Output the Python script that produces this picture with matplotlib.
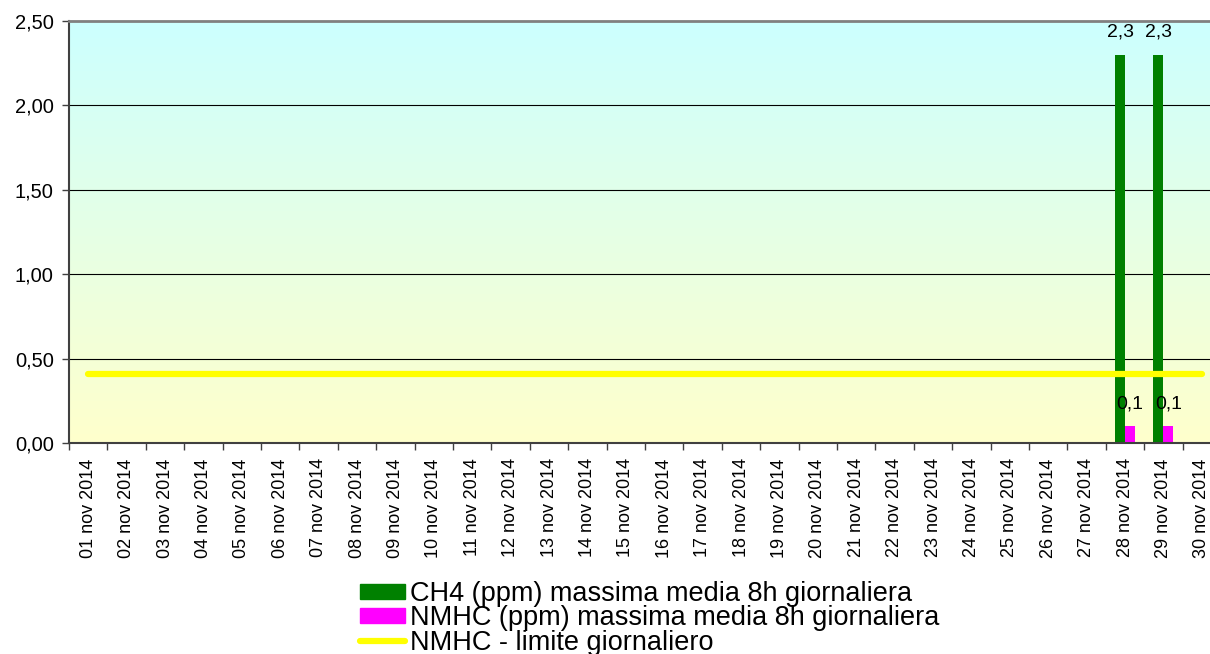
import numpy as np
import matplotlib
matplotlib.use("Agg")
import matplotlib.pyplot as plt
from matplotlib.patches import Patch
from matplotlib.lines import Line2D
from matplotlib.colors import LinearSegmentedColormap

plt.rcParams['font.family'] = ['Liberation Sans', 'DejaVu Sans']

days = [f"{d:02d} nov 2014" for d in range(1, 31)]
ch4 = [np.nan] * 27 + [2.3, 2.3, np.nan]
nmhc = [np.nan] * 27 + [0.1, 0.1, np.nan]
limit = [0.41] * 30
yticks = [0.0, 0.5, 1.0, 1.5, 2.0, 2.5]
series_names = ["CH4 (ppm) massima media 8h giornaliera",
                "NMHC (ppm) massima media 8h giornaliera",
                "NMHC - limite giornaliero"]

fig = plt.figure(figsize=(12.1, 6.54), dpi=100)
ax = fig.add_axes([69/1210, 1-443/654, (1221-69)/1210, (443-21)/654])

x = np.arange(len(days))
ax.set_xlim(-0.5, len(days) - 0.5)
ax.set_ylim(0, 2.5)

# gradient background
cmap = LinearSegmentedColormap.from_list("bg", ["#FFFFCC", "#CCFFFF"])
grad = np.linspace(0, 1, 256).reshape(-1, 1)
ax.imshow(grad, aspect='auto', cmap=cmap, origin='lower',
          extent=[-0.5, len(days) - 0.5, 0, 2.5], zorder=0)

for yv in yticks[1:-1]:
    ax.axhline(yv, color='black', lw=0.8, zorder=1)

w = 0.26
ax.bar(x - w/2, ch4, width=w, color='#008000', zorder=2)
ax.bar(x + w/2, nmhc, width=w, color='#FF00FF', zorder=2)
ax.plot(x, limit, color='#FFFF00', lw=4.5, solid_capstyle='round', zorder=3)

for xi, v in zip(x, ch4):
    if not np.isnan(v):
        ax.annotate(f"{v:.1f}".replace('.', ','), (xi - w/2, v), xytext=(0, 10),
                    textcoords='offset points', ha='center', va='bottom', fontsize=14, zorder=4)
for xi, v in zip(x, nmhc):
    if not np.isnan(v):
        ax.annotate(f"{v:.1f}".replace('.', ','), (xi + w/2, v), xytext=(0, 9.5),
                    textcoords='offset points', ha='center', va='bottom', fontsize=14, zorder=4)

ax.set_yticks(yticks)
ax.set_yticklabels([f"{v:.2f}".replace('.', ',') for v in yticks], fontsize=14.5)
ax.tick_params(axis='y', direction='out', length=5, width=1, pad=6, color='#404040')

ax.set_xticks(x)
ax.set_xticklabels(days, rotation=90, fontsize=13)
ax.tick_params(axis='x', which='major', length=0, pad=11)
ax.set_xticks(np.arange(-0.5, len(days)), minor=True)
ax.tick_params(axis='x', which='minor', direction='out', length=5, width=1, color='#404040')

ax.spines['top'].set_color('#808080')
ax.spines['top'].set_linewidth(2)
ax.spines['left'].set_color('#404040')
ax.spines['left'].set_linewidth(1.5)
ax.spines['bottom'].set_color('#404040')
ax.spines['bottom'].set_linewidth(1.5)
ax.spines['right'].set_visible(False)

handles = [Patch(color='#008000'), Patch(color='#FF00FF'),
           Line2D([0], [0], color='#FFFF00', lw=4.5, solid_capstyle='round')]
fig.legend(handles, series_names, loc='upper left', bbox_to_anchor=(360/1210, 1-581/654),
           frameon=False, fontsize=19.5, handlelength=1.65, handleheight=0.5,
           handletextpad=0.18, labelspacing=-0.06, borderpad=0, borderaxespad=0)

fig.savefig("out.png", dpi=100)
